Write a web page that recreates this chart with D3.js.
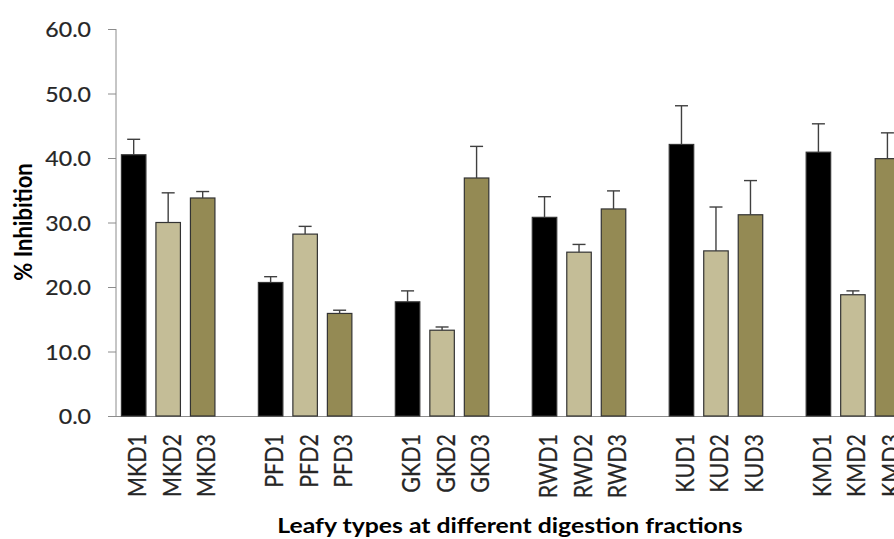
<!DOCTYPE html>
<html lang="en">
  <head>
    <meta charset="utf-8">
    <title>% Inhibition</title>
    <script src="https://cdn.jsdelivr.net/npm/d3@7"></script>
    <style>
html, body {
  margin: 0;
  padding: 0;
  background: #fff;
}
svg {
  display: block;
  font-family: Lato, "Open Sans", sans-serif;
}
.axis path, .axis line {
  stroke: #8c8c8c;
}
.axis text, .cat {
  fill: #262626;
  stroke: #262626;
  stroke-width: 0.2px;
}
    </style>
  </head>
  <body>
    <div id="chart"></div>
    <script>

// leaf types and digestion fractions
var groups = ["MK", "PF", "GK", "RW", "KU", "KM"];
var fractions = ["D1", "D2", "D3"];
var colors = ["#000000", "#c4bd97", "#948a54"];

// % inhibition
var valD1 = [40.5, 20.7, 17.7, 30.8, 42.1, 40.9];
var valD2 = [30.0, 28.2, 13.3, 25.4, 25.6, 18.8];
var valD3 = [33.8, 15.9, 36.9, 32.1, 31.2, 39.9];

// error (upper part only)
var errD1 = [2.4, 0.9, 1.7, 3.2, 6.0, 4.4];
var errD2 = [4.6, 1.2, 0.5, 1.2, 6.8, 0.6];
var errD3 = [1.0, 0.5, 4.9, 2.8, 5.3, 4.0];

var yTicks = [0, 10, 20, 30, 40, 50, 60];

var width = 894, height = 539;

var svg = d3.select("#chart").append("svg")
    .attr("width", width)
    .attr("height", height);

var y = d3.scaleLinear().domain([0, 60]).range([416, 29]);

var x0 = d3.scaleBand().domain(groups).range([99.7, 99.7 + 6 * 136.95]);
var half = x0.bandwidth() / 2;
var x1 = d3.scaleBand().domain(fractions)
    .range([half - 46.75, half + 46.75])
    .paddingInner(0.29);

// table for drawing
var vals = [valD1, valD2, valD3], errs = [errD1, errD2, errD3];
var rows = [];
groups.forEach(function(g, i) {
  fractions.forEach(function(f, j) {
    rows.push({g: g, f: f, j: j, v: vals[j][i], e: errs[j][i], label: g + f});
  });
});

function cx(d) { return x0(d.g) + x1(d.f) + x1.bandwidth() / 2; }

// y axis
var yAxis = svg.append("g")
    .attr("class", "axis")
    .attr("transform", "translate(116,0)")
    .call(d3.axisLeft(y).tickValues(yTicks).tickFormat(d3.format(".1f")).tickSize(8).tickSizeOuter(0));
yAxis.select(".domain").attr("d", "M0," + y(60) + "V" + y(0));
yAxis.selectAll("text")
    .attr("x", null)
    .attr("dy", "0.36em")
    .attr("transform", "translate(-25,0) scale(1.1,1)")
    .style("font-size", "21px")
    .style("font-family", "Lato, sans-serif");

// x axis line
svg.append("line")
    .attr("x1", 108).attr("x2", width)
    .attr("y1", y(0) + 0.5).attr("y2", y(0) + 0.5)
    .attr("stroke", "#8c8c8c");

// bars
svg.append("g").selectAll("rect")
    .data(rows)
  .enter().append("rect")
    .attr("x", function(d) { return x0(d.g) + x1(d.f); })
    .attr("y", function(d) { return y(d.v); })
    .attr("width", x1.bandwidth())
    .attr("height", function(d) { return y(0) - y(d.v); })
    .attr("fill", function(d) { return colors[d.j]; })
    .attr("stroke", "#333")
    .attr("stroke-width", 1.2);

// error bars
var eb = svg.append("g").attr("stroke", "#404040").attr("stroke-width", 1.4)
  .selectAll("g").data(rows).enter().append("g");
eb.append("line")
    .attr("x1", cx).attr("x2", cx)
    .attr("y1", function(d) { return y(d.v); })
    .attr("y2", function(d) { return y(d.v + d.e); });
eb.append("line")
    .attr("x1", function(d) { return cx(d) - 6.5; })
    .attr("x2", function(d) { return cx(d) + 6.5; })
    .attr("y1", function(d) { return y(d.v + d.e); })
    .attr("y2", function(d) { return y(d.v + d.e); });

// category labels, rotated
svg.append("g").selectAll("text")
    .data(rows)
  .enter().append("text")
    .attr("class", "cat")
    .attr("transform", function(d) {
      return "translate(" + (cx(d) + 12.5) + ",434) rotate(-90) scale(1,1.2)";
    })
    .attr("text-anchor", "end")
    .style("font-size", "21.5px")
    .text(function(d) { return d.label; });

// axis titles
svg.append("text")
    .attr("transform", "translate(510,533) scale(1.18,1)")
    .attr("text-anchor", "middle")
    .attr("fill", "#000")
    .style("font-size", "21px")
    .style("font-weight", "bold")
    .text("Leafy types at different digestion fractions");

svg.append("text")
    .attr("transform", "translate(32,222) rotate(-90) scale(1,1.15)")
    .attr("text-anchor", "middle")
    .attr("fill", "#000")
    .style("font-size", "22px")
    .style("font-weight", "bold")
    .text("% Inhibition");

    </script>
  </body>
</html>
